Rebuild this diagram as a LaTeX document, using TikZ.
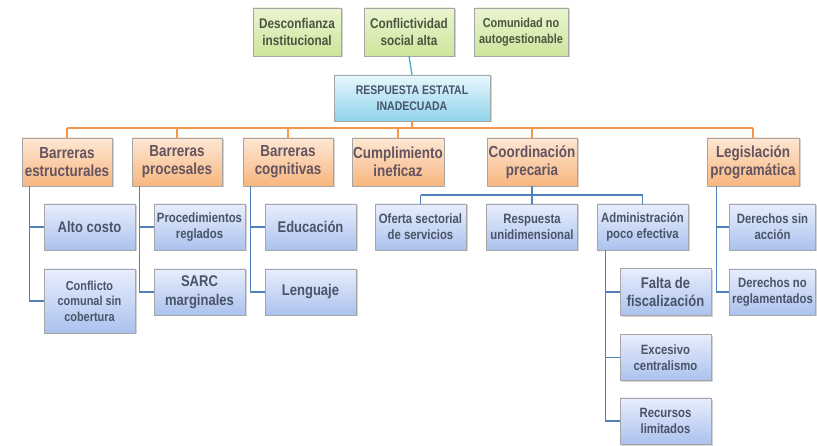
\documentclass[tikz,border=0pt]{standalone}
\usepackage{fontspec}
\setmainfont{Liberation Sans}[FakeStretch=0.84]
\usetikzlibrary{shadows}

\definecolor{verdeA}{HTML}{EAF5D0}
\definecolor{verdeB}{HTML}{CDE59C}
\definecolor{naranjaA}{HTML}{FDE7D4}
\definecolor{naranjaB}{HTML}{F8B67E}
\definecolor{azulA}{HTML}{E8EEFC}
\definecolor{azulB}{HTML}{ABC2EE}
\definecolor{cianA}{HTML}{E8F7FC}
\definecolor{cianB}{HTML}{8ED3EC}
\definecolor{lineaNar}{HTML}{F79646}
\definecolor{lineaAzul}{HTML}{4F81BD}
\definecolor{lineaCian}{HTML}{4BACC6}
\definecolor{textoVerde}{HTML}{4B5540}
\definecolor{textoNar}{HTML}{645460}
\definecolor{textoAzul}{HTML}{4A5468}

\tikzset{
  caja/.style={draw=gray!70, align=center, inner sep=1pt,
    font=\bfseries\fontsize{14}{17}\selectfont,
    drop shadow={shadow xshift=1.5pt, shadow yshift=-1.5pt, opacity=0.35}},
  contexto/.style={caja, top color=verdeA, bottom color=verdeB, text=textoVerde,
    minimum width=88, minimum height=48},
  central/.style={caja, top color=cianA, bottom color=cianB, text=textoAzul,
    minimum width=156, minimum height=46, font=\bfseries\fontsize{12.5}{16}\selectfont},
  factor/.style={caja, top color=naranjaA, bottom color=naranjaB, text=textoNar,
    minimum width=90, minimum height=48, font=\bfseries\fontsize{16}{18}\selectfont},
  detalle/.style={caja, top color=azulA, bottom color=azulB, text=textoAzul,
    minimum width=91, minimum height=46},
  grande/.style={font=\bfseries\fontsize{15.5}{18.5}\selectfont},
  chica/.style={font=\bfseries\fontsize{13.5}{16}\selectfont},
  lnar/.style={draw=lineaNar, line width=1.3pt},
  lazul/.style={draw=lineaAzul, line width=1.3pt},
}

\begin{document}
\begin{tikzpicture}[x=1pt,y=-1pt]
  \useasboundingbox (0,0) rectangle (817,446);
  % Contexto
  \node[contexto] (desconf) at (297,32) {Desconfianza\\institucional};
  \node[contexto, minimum width=90] (conflic) at (409,32) {Conflictividad\\social alta};
  \node[contexto, minimum width=94, font=\bfseries\fontsize{13}{16}\selectfont] (comunid) at (521,32) {Comunidad no\\autogestionable};
  % Problema central
  \node[central] (respuesta) at (412,98) {RESPUESTA ESTATAL\\INADECUADA};
  % Factores
  \node[factor] (estruct) at (67,162) {Barreras\\estructurales};
  \node[factor] (proces) at (177,162) {Barreras\\procesales};
  \node[factor] (cognit) at (288,162) {Barreras\\cognitivas};
  \node[factor] (cumpl) at (398,162) {Cumplimiento\\ineficaz};
  \node[factor] (coord) at (532,162) {Coordinación\\precaria};
  \node[factor, minimum width=92] (legis) at (753,162) {Legislación\\programática};
  % Detalles
  \node[detalle, grande] (alto) at (89.5,227) {Alto costo};
  \node[detalle, minimum height=64, font=\bfseries\fontsize{13}{15.5}\selectfont] (conflicto) at (89.5,301) {Conflicto\\comunal sin\\cobertura};
  \node[detalle, chica] (proced) at (199.5,227) {Procedimientos\\reglados};
  \node[detalle, grande] (sarc) at (199.5,292) {SARC\\marginales};
  \node[detalle, grande] (educ) at (310.5,227) {Educación};
  \node[detalle, grande] (leng) at (310.5,292) {Lenguaje};
  \node[detalle, chica] (oferta) at (420.5,227) {Oferta sectorial\\de servicios};
  \node[detalle, chica] (unidim) at (532,227) {Respuesta\\unidimensional};
  \node[detalle, chica] (admin) at (642.5,227) {Administración\\poco efectiva};
  \node[detalle, grande, minimum height=47] (falta) at (665.5,292) {Falta de\\fiscalización};
  \node[detalle, chica] (excesivo) at (665.5,357.5) {Excesivo\\centralismo};
  \node[detalle, chica] (recursos) at (665.5,421) {Recursos\\limitados};
  \node[detalle, chica, minimum width=86] (dsin) at (772.5,227) {Derechos sin\\acción};
  \node[detalle, chica, minimum width=86] (dno) at (772.5,292) {Derechos no\\reglamentados};

  % Conectores
  \draw[draw=lineaCian, line width=1.3pt] (conflic.south) -- (respuesta.north);
  \coordinate (bus) at (412,128);
  \draw[lnar] (respuesta.south) -- (bus);
  \draw[lnar] (bus -| estruct.north) -- (bus -| legis.north);
  \foreach \f in {estruct,proces,cognit,cumpl,coord,legis}
    \draw[lnar] (bus -| \f.north) -- (\f.north);
  \coordinate (cbus) at (532,195);
  \draw[lazul] (coord.south) -- (unidim.north);
  \draw[lazul] (cbus -| oferta.north) -- (cbus -| admin.north);
  \draw[lazul] (cbus -| oferta.north) -- (oferta.north);
  \draw[lazul] (cbus -| admin.north) -- (admin.north);
  \draw[lazul] ([xshift=8pt]estruct.south west) |- (alto.west);
  \draw[lazul] ([xshift=8pt]estruct.south west) |- (conflicto.west);
  \draw[lazul] ([xshift=8pt]proces.south west) |- (proced.west);
  \draw[lazul] ([xshift=8pt]proces.south west) |- (sarc.west);
  \draw[lazul] ([xshift=8pt]cognit.south west) |- (educ.west);
  \draw[lazul] ([xshift=8pt]cognit.south west) |- (leng.west);
  \draw[lazul] ([xshift=10pt]legis.south west) |- (dsin.west);
  \draw[lazul] ([xshift=10pt]legis.south west) |- (dno.west);
  \foreach \d in {falta,excesivo,recursos}
    \draw[lazul] ([xshift=9pt]admin.south west) |- (\d.west);
\end{tikzpicture}
\end{document}
